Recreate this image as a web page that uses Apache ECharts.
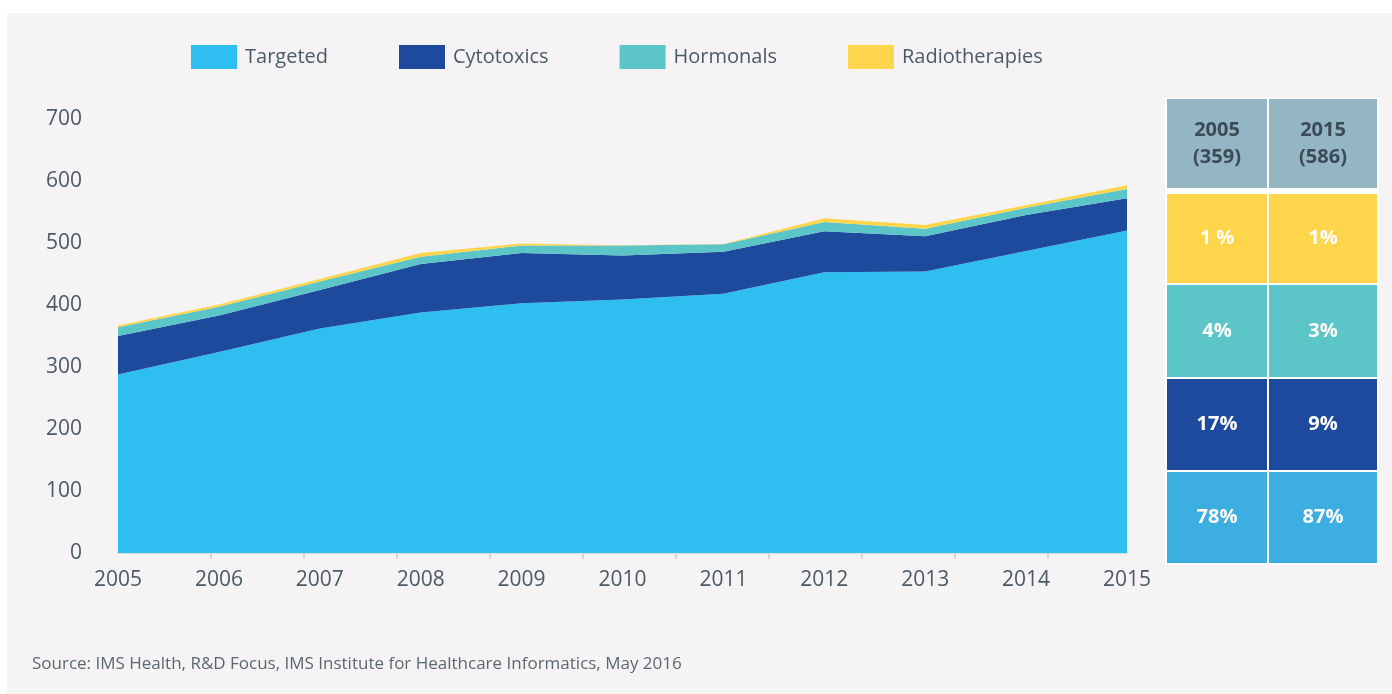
<!DOCTYPE html>
<html>
<head>
<meta charset="utf-8">
<script src="https://cdn.jsdelivr.net/npm/echarts@6/dist/echarts.min.js"></script>
<style>
  html, body { margin: 0; padding: 0; background: #ffffff; }
  #chart { width: 1392px; height: 694px; }
</style>
</head>
<body>
<div id="chart"></div>
<script>
// data
const years = ['2005', '2006', '2007', '2008', '2009', '2010', '2011', '2012', '2013', '2014', '2015']
const targeted = [288, 324, 362, 388, 403, 409, 418, 453, 454, 487, 520]
const cytotoxics = [62, 59, 62, 78, 81, 71, 68, 66, 57, 58, 52]
const hormonals = [14, 14, 14, 12, 12, 16, 12, 15, 12, 12, 15]
const radiotherapies = [3, 4, 4, 6, 3, 0.5, 0.5, 6, 6, 4, 6]

const tableHeaders = ['2005\n(359)', '2015\n(586)']
const share2005 = ['1 %', '4%', '17%', '78%']
const share2015 = ['1%', '3%', '9%', '87%']

const textColor = '#4a5a66'
const font = 'Open Sans'
const colors = {
  targeted: '#2ebef0',
  cytotoxics: '#1d4a9c',
  hormonals: '#5bc5c8',
  radiotherapies: '#ffd54c'
}

// side table layout
const colX = [1167, 1269]
const colW = [100, 108]
const rowY = [99, 194, 285, 379, 472]
const rowH = [89, 89, 92, 91, 91]
const rowColors = ['#93b5c4', colors.radiotherapies, colors.hormonals, colors.cytotoxics, '#3daee2']

function buildTable() {
  const els = [{
    type: 'rect',
    shape: { x: 1165, y: 97, width: 214, height: 468 },
    style: { fill: '#ffffff' }
  }]
  const cols = [share2005, share2015]
  for (let c = 0; c < 2; c++) {
    for (let r = 0; r < rowY.length; r++) {
      const txt = r === 0 ? tableHeaders[c] : cols[c][r - 1]
      els.push({
        type: 'rect',
        shape: { x: colX[c], y: rowY[r], width: colW[c], height: rowH[r] },
        style: { fill: rowColors[r] }
      })
      els.push({
        type: 'text',
        x: colX[c] + colW[c] / 2,
        y: rowY[r] + rowH[r] / 2,
        style: {
          text: txt,
          fill: r === 0 ? '#3b4b56' : '#ffffff',
          font: 'bold 20px "Open Sans"',
          lineHeight: 27,
          align: 'center',
          verticalAlign: 'middle'
        }
      })
    }
  }
  return els
}

function areaSeries(name, data) {
  return {
    name,
    type: 'line',
    stack: 'total',
    data,
    symbol: 'none',
    lineStyle: { width: 0 },
    areaStyle: { color: colors[name.toLowerCase()], opacity: 1 },
    itemStyle: { color: colors[name.toLowerCase()] }
  }
}

const chart = echarts.init(document.getElementById('chart'))

chart.setOption({
  animation: false,
  backgroundColor: '#ffffff',
  textStyle: { fontFamily: font },
  graphic: [
    {
      type: 'rect',
      z: -10,
      shape: { x: 7, y: 13, width: 1385, height: 681 },
      style: { fill: '#f5f3f4' }
    },
    {
      type: 'text',
      left: 32,
      top: 656,
      style: {
        text: 'Source: IMS Health, R&D Focus, IMS Institute for Healthcare Informatics, May 2016',
        fill: '#5a6872',
        font: '17px "Open Sans"'
      }
    },
    ...buildTable()
  ],
  legend: {
    left: 191,
    top: 45,
    padding: 0,
    icon: 'rect',
    itemWidth: 46,
    itemHeight: 24,
    itemGap: 71,
    textStyle: { fontSize: 20, color: textColor, fontFamily: font, padding: [0, 0, 0, 3] },
    data: ['Targeted', 'Cytotoxics', 'Hormonals', 'Radiotherapies']
  },
  grid: { left: 118, right: 265, top: 119, bottom: 141 },
  xAxis: [
    {
      type: 'category',
      data: years,
      boundaryGap: false,
      axisLine: { show: true, lineStyle: { color: '#dcdcdc', width: 2 } },
      axisTick: { show: false },
      axisLabel: { color: textColor, fontSize: 21, margin: 17, fontFamily: font }
    },
    {
      // tick marks only, spaced like the reference
      type: 'value',
      position: 'bottom',
      min: 0,
      max: 10.85,
      interval: 1,
      axisLine: { show: false },
      axisLabel: { show: false },
      splitLine: { show: false },
      axisTick: {
        show: true,
        length: 6,
        customValues: [1, 2, 3, 4, 5, 6, 7, 8, 9, 10],
        lineStyle: { color: '#d6d6d6', width: 2 }
      }
    }
  ],
  yAxis: {
    type: 'value',
    min: 0,
    max: 700,
    interval: 100,
    axisLine: { show: false },
    axisTick: { show: false },
    splitLine: { show: false },
    axisLabel: { color: textColor, fontSize: 21, margin: 36, fontFamily: font }
  },
  series: [
    areaSeries('Targeted', targeted),
    areaSeries('Cytotoxics', cytotoxics),
    areaSeries('Hormonals', hormonals),
    areaSeries('Radiotherapies', radiotherapies)
  ]
})
</script>
</body>
</html>
